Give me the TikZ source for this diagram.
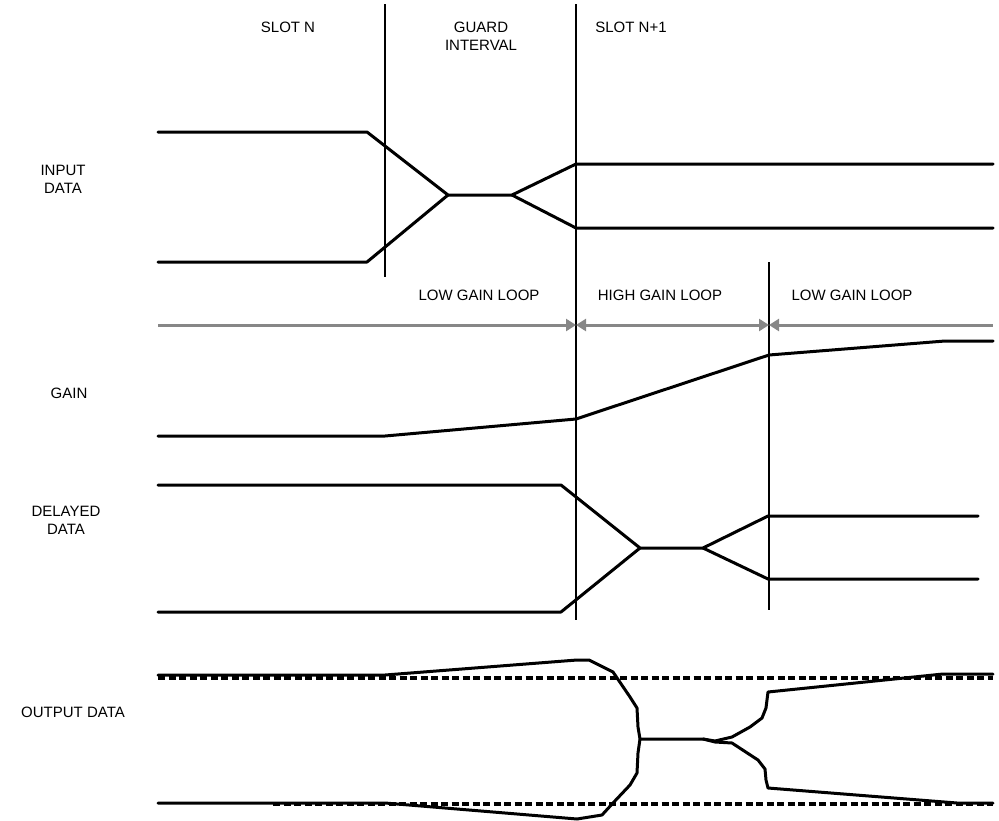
\documentclass[tikz,border=0pt]{standalone}
\usepackage{fontspec}
\setmainfont{Liberation Sans}
\usetikzlibrary{arrows.meta}
\definecolor{arrgray}{RGB}{135,135,135}
\tikzset{
  sig/.style={line width=3pt, line join=round, line cap=round},
  vbar/.style={line width=2.8pt},
  garrow/.style={draw=arrgray, line width=3pt},
  gtip/.tip={Triangle[length=10pt,width=12pt]},
  dline/.style={line width=3.4pt, dash pattern=on 7pt off 3.5pt},
  lbl/.style={font=\fontsize{15}{18}\selectfont, align=center, inner sep=0pt}
}
\begin{document}
\begin{tikzpicture}[x=1pt,y=-1pt]
\useasboundingbox (0,0) rectangle (999,820);
% labels
\node[lbl] (slotn) at (288,27) {SLOT N};
\node[lbl] (guard) at (481,36) {GUARD\\INTERVAL};
\node[lbl] (slotn1) at (631,27) {SLOT N+1};
\node[lbl] (input) at (63,179) {INPUT\\DATA};
\node[lbl] (gainl) at (69,393) {GAIN};
\node[lbl] (delayed) at (66,520) {DELAYED\\DATA};
\node[lbl] (output) at (73,712) {OUTPUT DATA};
\node[lbl] (lowa) at (479,295) {LOW GAIN LOOP};
\node[lbl] (high) at (660,295) {HIGH GAIN LOOP};
\node[lbl] (lowb) at (852,295) {LOW GAIN LOOP};
% vertical slot boundaries
\draw[vbar] (385,4) -- (385,277);
\draw[vbar] (576,4) -- (576,620);
\draw[vbar] (769,262) -- (769,610);
% input data
\draw[sig] (158,132) -- (367,132) -- (448,195) -- (512,195) -- (576,164) -- (993,164);
\draw[sig] (158,262) -- (367,262) -- (448,195);
\draw[sig] (512,195) -- (576,228) -- (993,228);
% loop arrows
\draw[garrow, -{gtip}] (158,325) -- (576,325);
\draw[garrow, {gtip}-{gtip}] (576,325) -- (769,325);
\draw[garrow, {gtip}-] (769,325) -- (993,325);
% gain
\draw[sig] (158,436) -- (385,436) -- (576,419) -- (769,355) -- (945,341) -- (993,341);
% delayed data
\draw[sig] (158,485) -- (561,485) -- (640,548) -- (703,548) -- (768,516) -- (978,516);
\draw[sig] (158,612) -- (561,612) -- (640,548);
\draw[sig] (703,548) -- (768,579) -- (978,579);
% output data: dashed reference levels
\draw[dline] (158,678) -- (993,678);
\draw[dline] (273,804) -- (993,804);
% output data: signal
\draw[sig] (158,675) -- (385,675) -- (577,660) -- (589,660) -- (613,672) -- (630,697)
  -- (637,708) -- (638,727) -- (640,739) -- (638,753) -- (637,773) -- (630,785)
  -- (613,803) -- (602,815) -- (577,819) -- (385,803) -- (158,803);
\draw[sig] (640,739) -- (703,739) -- (715,741) -- (732,737) -- (750,727) -- (762,718)
  -- (766,708) -- (768,692) -- (943,674) -- (993,674);
\draw[sig] (703,739) -- (715,742) -- (732,743) -- (758,760) -- (765,769) -- (766,780)
  -- (768,788) -- (957,803) -- (993,803);
\end{tikzpicture}
\end{document}
